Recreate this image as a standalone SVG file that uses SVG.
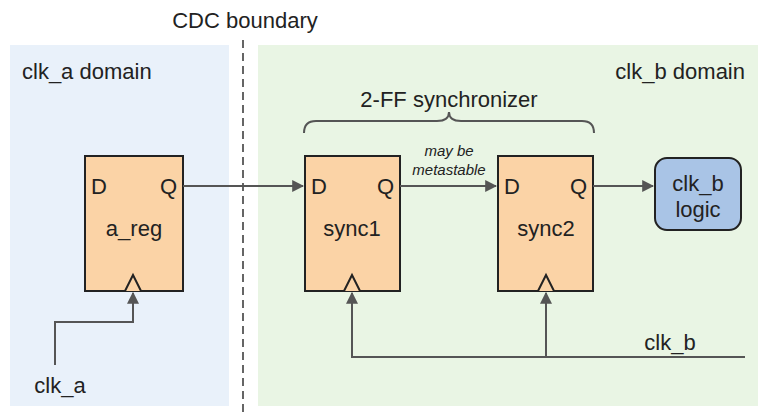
<svg xmlns="http://www.w3.org/2000/svg" width="768" height="419" viewBox="0 0 768 419">
<style>
text{font-family:"Liberation Sans",Arial,sans-serif;fill:#222}
.ff{fill:#fbd3a6;stroke:#222;stroke-width:2}
.w{stroke:#555;stroke-width:2;fill:none}
.t{font-size:22px}
</style>
<defs><marker id="a" viewBox="0 0 10 10" refX="9" refY="5" markerWidth="6" markerHeight="6" orient="auto"><path d="M0,0L10,5L0,10z" fill="#555"/></marker></defs>
<rect x="10" y="45" width="219" height="361" fill="#e9f1fa"/>
<rect x="258" y="45" width="500" height="361" fill="#e9f5e4"/>
<line x1="243" y1="40" x2="243" y2="412" stroke="#333" stroke-width="1.5" stroke-dasharray="8,5"/>
<text x="245" y="28" text-anchor="middle" class="t">CDC boundary</text>
<text x="22" y="79" class="t">clk_a domain</text>
<text x="745" y="79" text-anchor="end" class="t">clk_b domain</text>
<text x="449" y="107" text-anchor="middle" class="t">2-FF synchronizer</text>
<path d="M304,133 Q304,121 316,121 L437,121 Q449,121 449,112 Q449,121 461,121 L582,121 Q594,121 594,133" class="w" stroke-width="1.5"/>
<g id="a_reg"><rect class="ff" x="85" y="156" width="98" height="135"/><text x="91" y="194" class="t">D</text><text x="177" y="194" text-anchor="end" class="t">Q</text><text x="134" y="236" text-anchor="middle" class="t">a_reg</text><path d="M125,291 L133,275 L141,291" class="ff"/></g>
<g id="sync1"><rect class="ff" x="305" y="156" width="95" height="135"/><text x="311" y="194" class="t">D</text><text x="394" y="194" text-anchor="end" class="t">Q</text><text x="352" y="236" text-anchor="middle" class="t">sync1</text><path d="M344,291 L352,275 L360,291" class="ff"/></g>
<g id="sync2"><rect class="ff" x="498" y="156" width="95" height="135"/><text x="504" y="194" class="t">D</text><text x="587" y="194" text-anchor="end" class="t">Q</text><text x="546" y="236" text-anchor="middle" class="t">sync2</text><path d="M538,291 L546,275 L554,291" class="ff"/></g>
<g id="logic"><rect x="655" y="158" width="86" height="72" rx="12" fill="#a9c4e6" stroke="#222" stroke-width="2"/><text x="698" y="191" text-anchor="middle" class="t">clk_b</text><text x="698" y="217" text-anchor="middle" class="t">logic</text></g>
<g id="connectors">
<path d="M183,186 H303" class="w" marker-end="url(#a)"/>
<path d="M400,186 H496" class="w" marker-end="url(#a)"/>
<path d="M593,186 H653" class="w" marker-end="url(#a)"/>
<path d="M55,365 V322 H133 V293" class="w" marker-end="url(#a)"/>
<path d="M745,357 H352 V293" class="w" marker-end="url(#a)"/>
<path d="M546,357 V293" class="w" marker-end="url(#a)"/>
</g>
<text x="449" y="156" text-anchor="middle" font-size="15" font-style="italic">may be</text>
<text x="449" y="175" text-anchor="middle" font-size="15" font-style="italic">metastable</text>
<text x="670" y="350" text-anchor="middle" class="t">clk_b</text>
<text x="60" y="393" text-anchor="middle" class="t">clk_a</text>
</svg>
